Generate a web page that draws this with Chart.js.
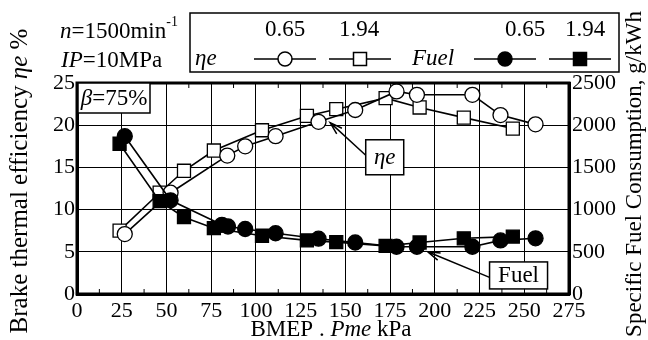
<!DOCTYPE html>
<html>
<head>
<meta charset="utf-8">
<script src="https://cdn.jsdelivr.net/npm/chart.js@4.4.1/dist/chart.umd.min.js"></script>
<style>
html, body { margin: 0; padding: 0; background: #fff; }
canvas { display: block; }
</style>
</head>
<body>
<canvas id="chart" width="648" height="340"></canvas>
<script>
// BMEP (kPa) for each run
const bmepCircle = [26.7, 52.3, 84, 94, 111, 135, 155.5, 178.6, 190, 221, 236.7, 256.3];
const bmepSquare = [23.8, 46.2, 59.8, 76.5, 103.4, 128.5, 144.9, 172.5, 191.5, 216.2, 243.6];
const bmepFuelCircle = [26.7, 52.3, 81, 84.4, 94, 111, 135, 155.5, 178.6, 190, 221, 236.7, 256.3];

// brake thermal efficiency, %
const etaCircle = [7.1, 12.0, 16.4, 17.5, 18.7, 20.4, 21.8, 24.0, 23.6, 23.6, 21.2, 20.1];
const etaSquare = [7.5, 12.0, 14.6, 17.0, 19.4, 21.1, 21.9, 23.2, 22.1, 20.9, 19.6];

// specific fuel consumption, g/kWh
const fuelCircle = [1870, 1110, 820, 800, 770, 720, 655, 610, 560, 560, 560, 635, 660];
const fuelSquare = [1780, 1100, 910, 780, 690, 635, 615, 570, 610, 660, 680];

const legendValues = ['0.65', '1.94'];
const FONT = '"Liberation Serif", "Times New Roman", serif';
const FS = 23;   // text
const TS = 22;   // tick labels

function pts(xs, ys) {
    return xs.map((x, i) => ({ x: x, y: ys[i] }));
}

// draw a row of text pieces, some italic / superscript
function drawRuns(ctx, parts, x, y, size, align) {
    const fontOf = p => (p.i ? 'italic ' : '') + Math.round(p.sup ? size * 0.6 : size) + 'px ' + FONT;
    let w = 0;
    parts.forEach(p => { ctx.font = fontOf(p); w += ctx.measureText(p.t).width; });
    let cx = align === 'center' ? x - w / 2 : (align === 'right' ? x - w : x);
    ctx.textAlign = 'left';
    ctx.textBaseline = 'middle';
    parts.forEach(p => {
        ctx.font = fontOf(p);
        ctx.fillText(p.t, cx, p.sup ? y - size * 0.42 : y);
        cx += ctx.measureText(p.t).width;
    });
}

function arrow(ctx, x1, y1, x2, y2) {
    ctx.beginPath();
    ctx.moveTo(x1, y1);
    ctx.lineTo(x2, y2);
    const a = Math.atan2(y2 - y1, x2 - x1);
    const len = 13, spread = 0.3;
    ctx.moveTo(x2 - len * Math.cos(a - spread), y2 - len * Math.sin(a - spread));
    ctx.lineTo(x2, y2);
    ctx.lineTo(x2 - len * Math.cos(a + spread), y2 - len * Math.sin(a + spread));
    ctx.stroke();
}

function labelBox(ctx, cx, cy, w, h, parts) {
    ctx.fillStyle = '#fff';
    ctx.fillRect(cx - w / 2, cy - h / 2, w, h);
    ctx.strokeRect(cx - w / 2, cy - h / 2, w, h);
    ctx.fillStyle = '#000';
    drawRuns(ctx, parts, cx, cy + 1, FS, 'center');
}

function legendMarker(ctx, cx, cy, style, filled) {
    ctx.beginPath();
    ctx.moveTo(cx - 31, cy);
    ctx.lineTo(cx + 31, cy);
    ctx.stroke();
    ctx.fillStyle = filled ? '#000' : '#fff';
    ctx.beginPath();
    if (style === 'circle') {
        ctx.arc(cx, cy, 7, 0, Math.PI * 2);
    } else {
        ctx.rect(cx - 6.5, cy - 6.5, 13, 13);
    }
    ctx.fill();
    ctx.stroke();
    ctx.fillStyle = '#000';
}

const decorations = {
    id: 'decorations',
    afterDraw(chart) {
        const ctx = chart.ctx;
        const a = chart.chartArea;
        const sx = chart.scales.x, sy = chart.scales.y;
        ctx.save();
        ctx.strokeStyle = '#000';
        ctx.fillStyle = '#000';

        // frame
        ctx.lineWidth = 3;
        ctx.strokeRect(a.left, a.top, a.right - a.left, a.bottom - a.top);

        // minor ticks on bottom and top
        ctx.lineWidth = 1;
        for (let v = 12.5; v < 275; v += 25) {
            const px = sx.getPixelForValue(v);
            ctx.beginPath();
            ctx.moveTo(px, a.bottom); ctx.lineTo(px, a.bottom - 5);
            ctx.moveTo(px, a.top); ctx.lineTo(px, a.top + 5);
            ctx.stroke();
        }

        // beta box
        ctx.lineWidth = 1.5;
        labelBox(ctx, a.left + 37, a.top + 15, 72, 30, [{ t: 'β', i: true }, { t: '=75%' }]);

        // eta annotation
        const ex = sx.getPixelForValue(172), ey = sy.getPixelForValue(16.2);
        arrow(ctx, ex - 19, ey - 2, sx.getPixelForValue(141.5), sy.getPixelForValue(20.3));
        labelBox(ctx, ex, ey, 38, 35, [{ t: 'ηe', i: true }]);

        // fuel annotation
        const fx = sx.getPixelForValue(246.8), fy = sy.getPixelForValue(2.2);
        arrow(ctx, fx - 29, fy + 2, sx.getPixelForValue(196), sy.getPixelForValue(5.0));
        labelBox(ctx, fx, fy, 58, 27, [{ t: 'Fuel' }]);

        // axis titles
        drawRuns(ctx, [{ t: 'BMEP . ' }, { t: 'Pme', i: true }, { t: ' kPa' }], 331, 330, FS, 'center');
        ctx.save();
        ctx.translate(20, 181);
        ctx.rotate(-Math.PI / 2);
        drawRuns(ctx, [{ t: 'Brake thermal efficiency ' }, { t: 'ηe', i: true }, { t: ' %' }], 0, 0, 25, 'center');
        ctx.restore();
        ctx.save();
        ctx.translate(635, 174);
        ctx.rotate(-Math.PI / 2);
        drawRuns(ctx, [{ t: 'Specific Fuel Consumption, g/kWh' }], 0, 0, 22.5, 'center');
        ctx.restore();

        // conditions
        drawRuns(ctx, [{ t: 'n', i: true }, { t: '=1500min' }, { t: '-1', sup: true }], 60, 32, FS, 'left');
        drawRuns(ctx, [{ t: 'IP', i: true }, { t: '=10MPa' }], 61, 61, FS, 'left');

        // legend box
        ctx.lineWidth = 1.5;
        ctx.strokeRect(190, 13, 429, 59);
        drawRuns(ctx, [{ t: legendValues[0] }], 285, 30, FS, 'center');
        drawRuns(ctx, [{ t: legendValues[1] }], 359, 30, FS, 'center');
        drawRuns(ctx, [{ t: legendValues[0] }], 525, 30, FS, 'center');
        drawRuns(ctx, [{ t: legendValues[1] }], 585, 30, FS, 'center');
        drawRuns(ctx, [{ t: 'ηe', i: true }], 195, 59, FS, 'left');
        drawRuns(ctx, [{ t: 'Fuel', i: true }], 433, 59, FS, 'center');
        ctx.lineWidth = 1.5;
        legendMarker(ctx, 285, 59, 'circle', false);
        legendMarker(ctx, 360, 59, 'rect', false);
        legendMarker(ctx, 505, 59, 'circle', true);
        legendMarker(ctx, 580, 59, 'rect', true);
        ctx.restore();
    }
};

function series(data, axis, style, filled) {
    return {
        data: data,
        yAxisID: axis,
        showLine: true,
        borderColor: '#000',
        borderWidth: 1.6,
        pointStyle: style,
        pointRadius: style === 'circle' ? 7.5 : 9.2,
        pointBorderWidth: 1.3,
        pointBorderColor: '#000',
        pointBackgroundColor: filled ? '#000' : '#fff',
        tension: 0
    };
}

const tickFont = { family: FONT, size: TS };

new Chart(document.getElementById('chart'), {
    type: 'scatter',
    data: {
        datasets: [
            series(pts(bmepFuelCircle, fuelCircle), 'y2', 'circle', true),
            series(pts(bmepSquare, fuelSquare), 'y2', 'rect', true),
            series(pts(bmepCircle, etaCircle), 'y', 'circle', false),
            series(pts(bmepSquare, etaSquare), 'y', 'rect', false)
        ]
    },
    options: {
        responsive: false,
        animation: false,
        layout: { padding: { top: 83, left: 0, right: 0, bottom: 0 } },
        plugins: { legend: { display: false }, tooltip: { enabled: false } },
        scales: {
            x: {
                type: 'linear', min: 0, max: 275,
                ticks: { stepSize: 25, font: tickFont, color: '#000', padding: 4, maxRotation: 0 },
                grid: { color: '#000', lineWidth: 1, drawTicks: false },
                border: { color: '#000', width: 3 },
                afterFit: s => { s.height = 46; }
            },
            y: {
                position: 'left', min: 0, max: 25,
                ticks: { stepSize: 5, font: tickFont, color: '#000', padding: 2 },
                grid: { color: '#000', lineWidth: 1, drawTicks: false },
                border: { color: '#000', width: 3 },
                afterFit: s => { s.width = 77; }
            },
            y2: {
                position: 'right', min: 0, max: 2500,
                ticks: { stepSize: 500, font: tickFont, color: '#000', padding: 3, callback: v => String(v) },
                grid: { display: false, drawTicks: false },
                border: { color: '#000', width: 3 },
                afterFit: s => { s.width = 79; }
            }
        }
    },
    plugins: [decorations]
});
</script>
</body>
</html>
